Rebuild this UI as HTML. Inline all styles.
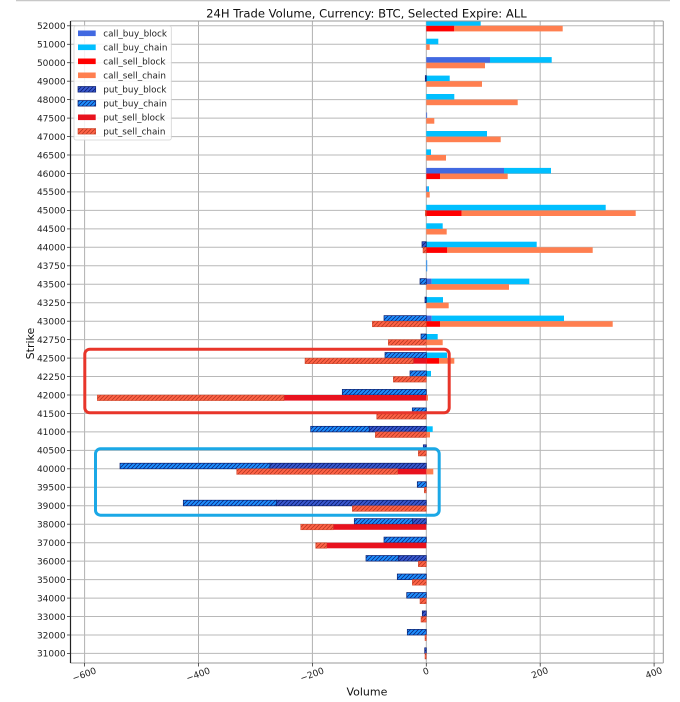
<!DOCTYPE html>
<html><head><meta charset="utf-8"><style>
html,body{margin:0;padding:0;background:#fff;}
body{width:680px;height:702px;overflow:hidden;}
svg{display:block;font-family:"DejaVu Sans","Liberation Sans",sans-serif;}
</style></head><body>
<svg width="680" height="702" viewBox="0 0 680 702" xmlns="http://www.w3.org/2000/svg">
<defs>
<pattern id="hPBB" patternUnits="userSpaceOnUse" width="4" height="4"><rect width="4" height="4" fill="#3A5AD2"/><path d="M-1,1 L1,-1 M0,4 L4,0 M3,5 L5,3" stroke="#0c2070" stroke-width="0.8"/></pattern>
<pattern id="hPBC" patternUnits="userSpaceOnUse" width="4" height="4"><rect width="4" height="4" fill="#1E90FF"/><path d="M-1,1 L1,-1 M0,4 L4,0 M3,5 L5,3" stroke="#0c2a80" stroke-width="0.8"/></pattern>
<pattern id="hPSC" patternUnits="userSpaceOnUse" width="4" height="4"><rect width="4" height="4" fill="#FF6347"/><path d="M-1,1 L1,-1 M0,4 L4,0 M3,5 L5,3" stroke="#b83a22" stroke-width="0.8"/></pattern>
<clipPath id="plot"><rect x="70.5" y="21" width="592.8" height="642"/></clipPath>
</defs>

<!-- top border -->
<line x1="16" y1="0.6" x2="670" y2="0.6" stroke="#c8c8c8" stroke-width="1.3"/>

<!-- title -->
<text x="366.4" y="17.7" font-size="11.6" text-anchor="middle" fill="#111">24H Trade Volume, Currency: BTC, Selected Expire: ALL</text>

<!-- grid -->
<g stroke="#b0b0b0" stroke-width="1">
<line x1="84.6" y1="21" x2="84.6" y2="663"/>
<line x1="198.5" y1="21" x2="198.5" y2="663"/>
<line x1="312.4" y1="21" x2="312.4" y2="663"/>
<line x1="426.3" y1="21" x2="426.3" y2="663"/>
<line x1="540.2" y1="21" x2="540.2" y2="663"/>
<line x1="654.1" y1="21" x2="654.1" y2="663"/>
</g>
<g stroke="#b8b8b8" stroke-width="1">
<line x1="70.5" x2="663.3" y1="25.8" y2="25.8"/>
<line x1="70.5" x2="663.3" y1="44.3" y2="44.3"/>
<line x1="70.5" x2="663.3" y1="62.7" y2="62.7"/>
<line x1="70.5" x2="663.3" y1="81.2" y2="81.2"/>
<line x1="70.5" x2="663.3" y1="99.6" y2="99.6"/>
<line x1="70.5" x2="663.3" y1="118.1" y2="118.1"/>
<line x1="70.5" x2="663.3" y1="136.6" y2="136.6"/>
<line x1="70.5" x2="663.3" y1="155.0" y2="155.0"/>
<line x1="70.5" x2="663.3" y1="173.5" y2="173.5"/>
<line x1="70.5" x2="663.3" y1="191.9" y2="191.9"/>
<line x1="70.5" x2="663.3" y1="210.4" y2="210.4"/>
<line x1="70.5" x2="663.3" y1="228.9" y2="228.9"/>
<line x1="70.5" x2="663.3" y1="247.3" y2="247.3"/>
<line x1="70.5" x2="663.3" y1="265.8" y2="265.8"/>
<line x1="70.5" x2="663.3" y1="284.2" y2="284.2"/>
<line x1="70.5" x2="663.3" y1="302.7" y2="302.7"/>
<line x1="70.5" x2="663.3" y1="321.2" y2="321.2"/>
<line x1="70.5" x2="663.3" y1="339.6" y2="339.6"/>
<line x1="70.5" x2="663.3" y1="358.1" y2="358.1"/>
<line x1="70.5" x2="663.3" y1="376.5" y2="376.5"/>
<line x1="70.5" x2="663.3" y1="395.0" y2="395.0"/>
<line x1="70.5" x2="663.3" y1="413.5" y2="413.5"/>
<line x1="70.5" x2="663.3" y1="431.9" y2="431.9"/>
<line x1="70.5" x2="663.3" y1="450.4" y2="450.4"/>
<line x1="70.5" x2="663.3" y1="468.8" y2="468.8"/>
<line x1="70.5" x2="663.3" y1="487.3" y2="487.3"/>
<line x1="70.5" x2="663.3" y1="505.8" y2="505.8"/>
<line x1="70.5" x2="663.3" y1="524.2" y2="524.2"/>
<line x1="70.5" x2="663.3" y1="542.7" y2="542.7"/>
<line x1="70.5" x2="663.3" y1="561.1" y2="561.1"/>
<line x1="70.5" x2="663.3" y1="579.6" y2="579.6"/>
<line x1="70.5" x2="663.3" y1="598.1" y2="598.1"/>
<line x1="70.5" x2="663.3" y1="616.5" y2="616.5"/>
<line x1="70.5" x2="663.3" y1="635.0" y2="635.0"/>
<line x1="70.5" x2="663.3" y1="653.4" y2="653.4"/>
</g>

<!-- bars -->
<g clip-path="url(#plot)">
<!-- call bars -->
<g>
<!-- 52000 -->
<rect x="426.3" y="20.2" width="54.4" height="5.6" fill="#00BFFF"/>
<rect x="426.3" y="25.8" width="28" height="5.6" fill="#FF0000"/>
<rect x="454.3" y="25.8" width="108.4" height="5.6" fill="#FF7F50"/>
<!-- 51000 -->
<rect x="426.3" y="38.7" width="12" height="5.6" fill="#00BFFF"/>
<rect x="426.3" y="44.3" width="3.4" height="5.6" fill="#FF7F50"/>
<!-- 50000 -->
<rect x="426.3" y="57.1" width="63.7" height="5.6" fill="#4169E1"/>
<rect x="490" y="57.1" width="61.7" height="5.6" fill="#00BFFF"/>
<rect x="426.3" y="62.7" width="58.7" height="5.6" fill="#FF7F50"/>
<!-- 49000 -->
<rect x="426.3" y="75.6" width="23.4" height="5.6" fill="#00BFFF"/>
<rect x="426.3" y="81.2" width="55.7" height="5.6" fill="#FF7F50"/>
<!-- 48000 -->
<rect x="426.3" y="94" width="28" height="5.6" fill="#00BFFF"/>
<rect x="426.3" y="99.6" width="91.4" height="5.6" fill="#FF7F50"/>
<!-- 47500 -->
<rect x="426.3" y="112.5" width="0.8" height="5.6" fill="#4169E1"/>
<rect x="426.3" y="118.1" width="8" height="5.6" fill="#FF7F50"/>
<!-- 47000 -->
<rect x="426.3" y="131" width="60.7" height="5.6" fill="#00BFFF"/>
<rect x="426.3" y="136.6" width="74.4" height="5.6" fill="#FF7F50"/>
<!-- 46500 -->
<rect x="426.3" y="149.4" width="4.7" height="5.6" fill="#00BFFF"/>
<rect x="426.3" y="155.0" width="19.7" height="5.6" fill="#FF7F50"/>
<!-- 46000 -->
<rect x="426.3" y="167.9" width="77.7" height="5.6" fill="#4169E1"/>
<rect x="504" y="167.9" width="47" height="5.6" fill="#00BFFF"/>
<rect x="426.3" y="173.5" width="13.7" height="5.6" fill="#FF0000"/>
<rect x="440" y="173.5" width="67.7" height="5.6" fill="#FF7F50"/>
<!-- 45500 -->
<rect x="426.3" y="186.3" width="1" height="5.6" fill="#4169E1"/>
<rect x="427.3" y="186.3" width="1.7" height="5.6" fill="#00BFFF"/>
<rect x="426.3" y="191.9" width="3.4" height="5.6" fill="#FF7F50"/>
<!-- 45000 -->
<rect x="426.3" y="204.8" width="179.4" height="5.6" fill="#00BFFF"/>
<rect x="426.3" y="210.4" width="35.4" height="5.6" fill="#FF0000"/>
<rect x="461.7" y="210.4" width="174" height="5.6" fill="#FF7F50"/>
<!-- 44500 -->
<rect x="426.3" y="223.3" width="16.4" height="5.6" fill="#00BFFF"/>
<rect x="426.3" y="228.9" width="20.4" height="5.6" fill="#FF7F50"/>
<!-- 44000 -->
<rect x="426.3" y="241.7" width="110.4" height="5.6" fill="#00BFFF"/>
<rect x="426.3" y="247.3" width="21" height="5.6" fill="#FF0000"/>
<rect x="447.3" y="247.3" width="145.4" height="5.6" fill="#FF7F50"/>
<!-- 43750 -->
<rect x="426.3" y="260.2" width="0.9" height="11.2" fill="#1E90FF"/>
<!-- 43500 -->
<rect x="426.3" y="278.6" width="5.4" height="5.6" fill="#4169E1"/>
<rect x="431.7" y="278.6" width="97.6" height="5.6" fill="#00BFFF"/>
<rect x="426.3" y="284.2" width="82.7" height="5.6" fill="#FF7F50"/>
<!-- 43250 -->
<rect x="426.3" y="297.1" width="16.7" height="5.6" fill="#00BFFF"/>
<rect x="426.3" y="302.7" width="22.4" height="5.6" fill="#FF7F50"/>
<!-- 43000 -->
<rect x="426.3" y="315.6" width="5.4" height="5.6" fill="#4169E1"/>
<rect x="431.7" y="315.6" width="132.3" height="5.6" fill="#00BFFF"/>
<rect x="426.3" y="321.2" width="13.7" height="5.6" fill="#FF0000"/>
<rect x="440" y="321.2" width="172.7" height="5.6" fill="#FF7F50"/>
<!-- 42750 -->
<rect x="426.3" y="334" width="11.4" height="5.6" fill="#00BFFF"/>
<rect x="426.3" y="339.6" width="16.4" height="5.6" fill="#FF7F50"/>
<!-- 42500 -->
<rect x="426.3" y="352.5" width="20.7" height="5.6" fill="#00BFFF"/>
<rect x="426.3" y="358.1" width="12.7" height="5.6" fill="#FF0000"/>
<rect x="439" y="358.1" width="15.3" height="5.6" fill="#FF7F50"/>
<!-- 42250 -->
<rect x="426.3" y="370.9" width="4.7" height="5.6" fill="#00BFFF"/>
<!-- 42000 -->
<rect x="426.3" y="395.0" width="1.7" height="5.6" fill="#FF7F50"/>
<!-- 41000 -->
<rect x="426.3" y="426.3" width="6.4" height="5.6" fill="#00BFFF"/>
<rect x="426.3" y="431.9" width="3.7" height="5.6" fill="#FF7F50"/>
<!-- 40000 -->
<rect x="426.3" y="468.8" width="7" height="5.6" fill="#FF7F50"/>
</g>

<!-- put buy bars -->
<g stroke="#0b1f70" stroke-width="0.7">
<rect x="425.3" y="75.6" width="1" height="5.6" fill="url(#hPBB)"/>
<rect x="422" y="241.7" width="4.3" height="5.6" fill="url(#hPBB)"/>
<rect x="420" y="278.6" width="6.3" height="5.6" fill="url(#hPBC)"/>
<rect x="425" y="297.1" width="1.3" height="5.6" fill="url(#hPBB)"/>
<rect x="384" y="315.6" width="42.3" height="5.6" fill="url(#hPBC)"/>
<rect x="421" y="334" width="5.3" height="5.6" fill="url(#hPBC)"/>
<rect x="385" y="352.5" width="41.3" height="5.6" fill="url(#hPBC)"/>
<rect x="410" y="370.9" width="16.3" height="5.6" fill="url(#hPBC)"/>
<rect x="342.3" y="389.4" width="84" height="5.6" fill="url(#hPBC)"/>
<rect x="412.3" y="407.9" width="14" height="5.6" fill="url(#hPBC)"/>
<rect x="310.7" y="426.3" width="58.6" height="5.6" fill="url(#hPBC)"/>
<rect x="369.3" y="426.3" width="57" height="5.6" fill="url(#hPBB)"/>
<rect x="423.3" y="444.8" width="3" height="5.6" fill="url(#hPBB)"/>
<rect x="120" y="463.2" width="150" height="5.6" fill="url(#hPBC)"/>
<rect x="270" y="463.2" width="156.3" height="5.6" fill="url(#hPBB)"/>
<rect x="417.3" y="481.7" width="9" height="5.6" fill="url(#hPBC)"/>
<rect x="183.3" y="500.2" width="93.4" height="5.6" fill="url(#hPBC)"/>
<rect x="276.7" y="500.2" width="149.6" height="5.6" fill="url(#hPBB)"/>
<rect x="354.3" y="518.6" width="58.4" height="5.6" fill="url(#hPBC)"/>
<rect x="412.7" y="518.6" width="13.6" height="5.6" fill="url(#hPBB)"/>
<rect x="384" y="537.1" width="42.3" height="5.6" fill="url(#hPBC)"/>
<rect x="366" y="555.5" width="32.3" height="5.6" fill="url(#hPBC)"/>
<rect x="398.3" y="555.5" width="28" height="5.6" fill="url(#hPBB)"/>
<rect x="397.3" y="574" width="29" height="5.6" fill="url(#hPBC)"/>
<rect x="406.7" y="592.5" width="19.6" height="5.6" fill="url(#hPBC)"/>
<rect x="422.3" y="610.9" width="4" height="5.6" fill="url(#hPBB)"/>
<rect x="407.3" y="629.4" width="19" height="5.6" fill="url(#hPBC)"/>
<rect x="424.7" y="647.8" width="1.6" height="5.6" fill="url(#hPBB)"/>
</g>

<!-- put sell bars -->
<g>
<rect x="413.3" y="358.1" width="13" height="5.6" fill="#E8121E"/>
<rect x="284" y="395.0" width="142.3" height="5.6" fill="#E8121E"/>
<rect x="397.7" y="468.8" width="28.6" height="5.6" fill="#E8121E"/>
<rect x="333.3" y="524.2" width="93" height="5.6" fill="#E8121E"/>
<rect x="326.7" y="542.7" width="99.6" height="5.6" fill="#E8121E"/>
</g>
<g stroke="#cc4a30" stroke-width="0.5">
<rect x="425.3" y="210.4" width="1" height="5.6" fill="url(#hPSC)"/>
<rect x="423" y="247.3" width="3.3" height="5.6" fill="url(#hPSC)"/>
<rect x="372.3" y="321.2" width="54" height="5.6" fill="url(#hPSC)"/>
<rect x="388.3" y="339.6" width="38" height="5.6" fill="url(#hPSC)"/>
<rect x="305" y="358.1" width="108.3" height="5.6" fill="url(#hPSC)"/>
<rect x="393.3" y="376.5" width="33" height="5.6" fill="url(#hPSC)"/>
<rect x="97.3" y="395.0" width="186.7" height="5.6" fill="url(#hPSC)"/>
<rect x="376.7" y="413.5" width="49.6" height="5.6" fill="url(#hPSC)"/>
<rect x="375.3" y="431.9" width="51" height="5.6" fill="url(#hPSC)"/>
<rect x="418.3" y="450.4" width="8" height="5.6" fill="url(#hPSC)"/>
<rect x="236.7" y="468.8" width="161" height="5.6" fill="url(#hPSC)"/>
<rect x="424.3" y="487.3" width="2" height="5.6" fill="url(#hPSC)"/>
<rect x="352.3" y="505.8" width="74" height="5.6" fill="url(#hPSC)"/>
<rect x="300.7" y="524.2" width="32.6" height="5.6" fill="url(#hPSC)"/>
<rect x="315.7" y="542.7" width="11" height="5.6" fill="url(#hPSC)"/>
<rect x="418.3" y="561.1" width="8" height="5.6" fill="url(#hPSC)"/>
<rect x="412.3" y="579.6" width="14" height="5.6" fill="url(#hPSC)"/>
<rect x="420" y="598.1" width="6.3" height="5.6" fill="url(#hPSC)"/>
<rect x="421" y="616.5" width="5.3" height="5.6" fill="url(#hPSC)"/>
<rect x="425" y="635.0" width="1.3" height="5.6" fill="url(#hPSC)"/>
<rect x="425" y="653.4" width="1.3" height="5.6" fill="url(#hPSC)"/>
</g>
</g>

<!-- spines -->
<line x1="70.5" y1="21" x2="663.3" y2="21" stroke="#999" stroke-width="1"/>
<line x1="663.3" y1="21" x2="663.3" y2="663" stroke="#999" stroke-width="1"/>
<line x1="70.5" y1="663" x2="663.3" y2="663" stroke="#999" stroke-width="1"/>
<line x1="70.5" y1="21" x2="70.5" y2="663" stroke="#222" stroke-width="1.2"/>

<!-- y ticks -->
<g stroke="#333" stroke-width="0.8">
<line x1="67" x2="70.5" y1="25.8" y2="25.8"/><line x1="67" x2="70.5" y1="44.3" y2="44.3"/><line x1="67" x2="70.5" y1="62.7" y2="62.7"/><line x1="67" x2="70.5" y1="81.2" y2="81.2"/><line x1="67" x2="70.5" y1="99.6" y2="99.6"/><line x1="67" x2="70.5" y1="118.1" y2="118.1"/><line x1="67" x2="70.5" y1="136.6" y2="136.6"/><line x1="67" x2="70.5" y1="155.0" y2="155.0"/><line x1="67" x2="70.5" y1="173.5" y2="173.5"/><line x1="67" x2="70.5" y1="191.9" y2="191.9"/><line x1="67" x2="70.5" y1="210.4" y2="210.4"/><line x1="67" x2="70.5" y1="228.9" y2="228.9"/><line x1="67" x2="70.5" y1="247.3" y2="247.3"/><line x1="67" x2="70.5" y1="265.8" y2="265.8"/><line x1="67" x2="70.5" y1="284.2" y2="284.2"/><line x1="67" x2="70.5" y1="302.7" y2="302.7"/><line x1="67" x2="70.5" y1="321.2" y2="321.2"/><line x1="67" x2="70.5" y1="339.6" y2="339.6"/><line x1="67" x2="70.5" y1="358.1" y2="358.1"/><line x1="67" x2="70.5" y1="376.5" y2="376.5"/><line x1="67" x2="70.5" y1="395.0" y2="395.0"/><line x1="67" x2="70.5" y1="413.5" y2="413.5"/><line x1="67" x2="70.5" y1="431.9" y2="431.9"/><line x1="67" x2="70.5" y1="450.4" y2="450.4"/><line x1="67" x2="70.5" y1="468.8" y2="468.8"/><line x1="67" x2="70.5" y1="487.3" y2="487.3"/><line x1="67" x2="70.5" y1="505.8" y2="505.8"/><line x1="67" x2="70.5" y1="524.2" y2="524.2"/><line x1="67" x2="70.5" y1="542.7" y2="542.7"/><line x1="67" x2="70.5" y1="561.1" y2="561.1"/><line x1="67" x2="70.5" y1="579.6" y2="579.6"/><line x1="67" x2="70.5" y1="598.1" y2="598.1"/><line x1="67" x2="70.5" y1="616.5" y2="616.5"/><line x1="67" x2="70.5" y1="635.0" y2="635.0"/><line x1="67" x2="70.5" y1="653.4" y2="653.4"/>
</g>
<g font-size="9" text-anchor="end" fill="#222">
<text x="65.6" y="29.1">52000</text><text x="65.6" y="47.6">51000</text><text x="65.6" y="66.0">50000</text><text x="65.6" y="84.5">49000</text><text x="65.6" y="102.9">48000</text><text x="65.6" y="121.4">47500</text><text x="65.6" y="139.9">47000</text><text x="65.6" y="158.3">46500</text><text x="65.6" y="176.8">46000</text><text x="65.6" y="195.2">45500</text><text x="65.6" y="213.7">45000</text><text x="65.6" y="232.2">44500</text><text x="65.6" y="250.6">44000</text><text x="65.6" y="269.1">43750</text><text x="65.6" y="287.5">43500</text><text x="65.6" y="306.0">43250</text><text x="65.6" y="324.5">43000</text><text x="65.6" y="342.9">42750</text><text x="65.6" y="361.4">42500</text><text x="65.6" y="379.8">42250</text><text x="65.6" y="398.3">42000</text><text x="65.6" y="416.8">41500</text><text x="65.6" y="435.2">41000</text><text x="65.6" y="453.7">40500</text><text x="65.6" y="472.1">40000</text><text x="65.6" y="490.6">39500</text><text x="65.6" y="509.1">39000</text><text x="65.6" y="527.5">38000</text><text x="65.6" y="546.0">37000</text><text x="65.6" y="564.4">36000</text><text x="65.6" y="582.9">35000</text><text x="65.6" y="601.4">34000</text><text x="65.6" y="619.8">33000</text><text x="65.6" y="638.3">32000</text><text x="65.6" y="656.7">31000</text>
</g>

<!-- x ticks -->
<g stroke="#333" stroke-width="0.8">
<line x1="84.6" x2="84.6" y1="663" y2="666.5"/><line x1="198.5" x2="198.5" y1="663" y2="666.5"/><line x1="312.4" x2="312.4" y1="663" y2="666.5"/><line x1="426.3" x2="426.3" y1="663" y2="666.5"/><line x1="540.2" x2="540.2" y1="663" y2="666.5"/><line x1="654.1" x2="654.1" y1="663" y2="666.5"/>
</g>
<g font-size="9" text-anchor="middle" fill="#222" dominant-baseline="central">
<text x="84.6" y="675.4" transform="rotate(-20 84.6 675.4)">−600</text>
<text x="198.5" y="675.4" transform="rotate(-20 198.5 675.4)">−400</text>
<text x="312.4" y="675.4" transform="rotate(-20 312.4 675.4)">−200</text>
<text x="426.3" y="672.3" transform="rotate(-20 426.3 672.3)">0</text>
<text x="540.2" y="673.8" transform="rotate(-20 540.2 673.8)">200</text>
<text x="654.1" y="673.8" transform="rotate(-20 654.1 673.8)">400</text>
</g>

<!-- axis labels -->
<text x="366.9" y="695.7" font-size="11" text-anchor="middle" fill="#111">Volume</text>
<text transform="translate(33.8,343.5) rotate(-90)" font-size="11" text-anchor="middle" fill="#111">Strike</text>

<!-- legend -->
<rect x="74" y="26" width="97.3" height="114" rx="2" fill="#fff" fill-opacity="0.85" stroke="#d4d4d4" stroke-width="0.8"/>
<rect x="78" y="30.5" width="17.7" height="5.6" fill="#4169E1"/>
<rect x="78" y="44.5" width="17.7" height="5.6" fill="#00BFFF"/>
<rect x="78" y="58.5" width="17.7" height="5.6" fill="#FF0000"/>
<rect x="78" y="72.5" width="17.7" height="5.6" fill="#FF7F50"/>
<rect x="78" y="86.5" width="17.7" height="5.6" fill="url(#hPBB)" stroke="#0b1f70" stroke-width="0.7"/>
<rect x="78" y="100.5" width="17.7" height="5.6" fill="url(#hPBC)" stroke="#0b1f70" stroke-width="0.7"/>
<rect x="78" y="114.5" width="17.7" height="5.6" fill="#E8121E"/>
<rect x="78" y="128.5" width="17.7" height="5.6" fill="url(#hPSC)" stroke="#cc4a30" stroke-width="0.6"/>
<g font-size="8.8" fill="#222">
<text x="103.3" y="36.5">call_buy_block</text>
<text x="103.3" y="50.5">call_buy_chain</text>
<text x="103.3" y="64.5">call_sell_block</text>
<text x="103.3" y="78.5">call_sell_chain</text>
<text x="103.3" y="92.5">put_buy_block</text>
<text x="103.3" y="106.5">put_buy_chain</text>
<text x="103.3" y="120.5">put_sell_block</text>
<text x="103.3" y="134.5">put_sell_chain</text>
</g>

<!-- annotation boxes -->
<rect x="84.8" y="349.2" width="364.4" height="63.6" rx="5" fill="none" stroke="#E8352A" stroke-width="3"/>
<rect x="95.5" y="448.8" width="343.7" height="66.4" rx="5" fill="none" stroke="#1BA8E6" stroke-width="3"/>
</svg>
</body></html>
